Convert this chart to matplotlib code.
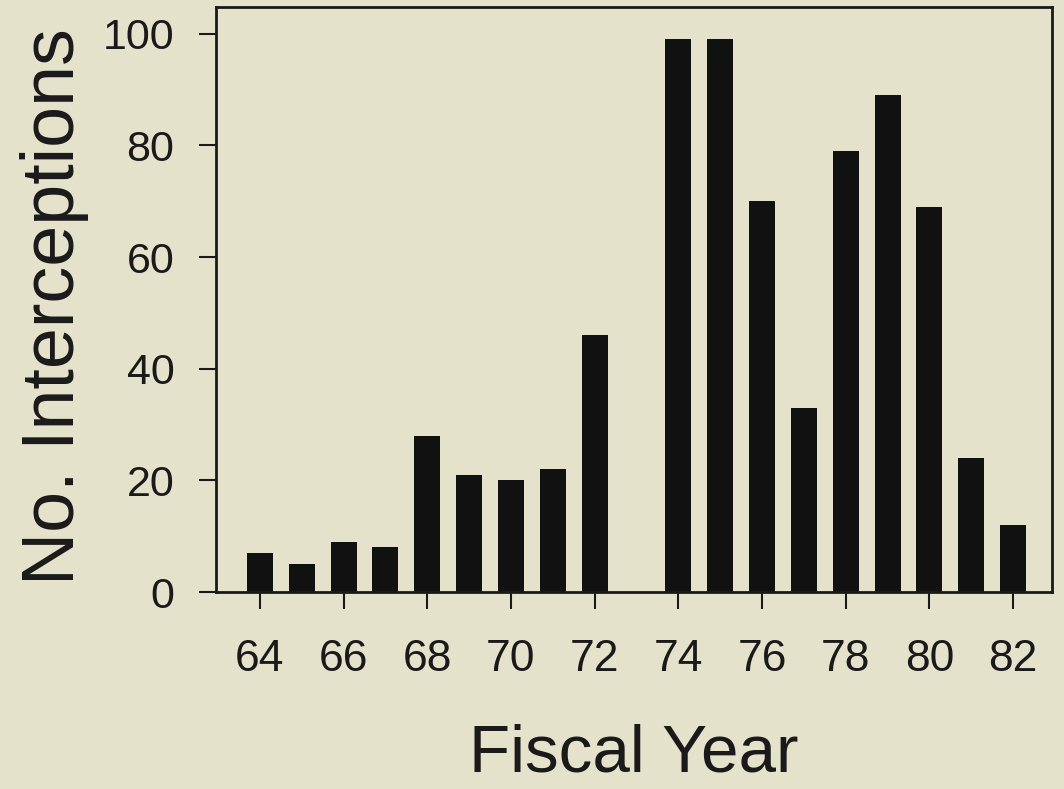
import matplotlib
matplotlib.use("Agg")
import matplotlib.pyplot as plt

years = [64, 65, 66, 67, 68, 69, 70, 71, 72, 74, 75, 76, 77, 78, 79, 80, 81, 82]
interceptions = [7, 5, 9, 8, 28, 21, 20, 22, 46, 99, 99, 70, 33, 79, 89, 69, 24, 12]
xticks = [64, 66, 68, 70, 72, 74, 76, 78, 80, 82]
yticks = [0, 20, 40, 60, 80, 100]

plt.rcParams['font.family'] = ['Liberation Sans', 'DejaVu Sans']
bg = '#e5e2cc'
fig = plt.figure(figsize=(10.64, 7.89), dpi=100, facecolor=bg)
ax = fig.add_axes([216/1064, 1-592/789, (1052-216)/1064, (592-7)/789])
ax.set_facecolor(bg)
ax.bar(years, interceptions, width=0.62, color='#111111', edgecolor='none')
ax.set_xlim(62.95, 82.93)
ax.set_ylim(0, 104.8)
ax.set_xticks(xticks)
ax.set_xticklabels([str(t) for t in xticks])
ax.set_yticks(yticks)
for s in ax.spines.values():
    s.set_linewidth(2)
    s.set_color('#1a1a1a')
ax.tick_params(axis='x', direction='out', length=12, width=1.5, pad=22, labelsize=32, colors='#1a1a1a')
ax.tick_params(axis='y', direction='out', length=12, width=1.5, pad=18, labelsize=31, colors='#1a1a1a')
ax.set_xlabel('Fiscal Year', fontsize=48.5, color='#1a1a1a', labelpad=31)
ax.set_ylabel('No. Interceptions', fontsize=53, color='#1a1a1a')
ax.yaxis.set_label_coords(-0.152, 0.488)
fig.savefig('out.png', dpi=100, facecolor=bg)
